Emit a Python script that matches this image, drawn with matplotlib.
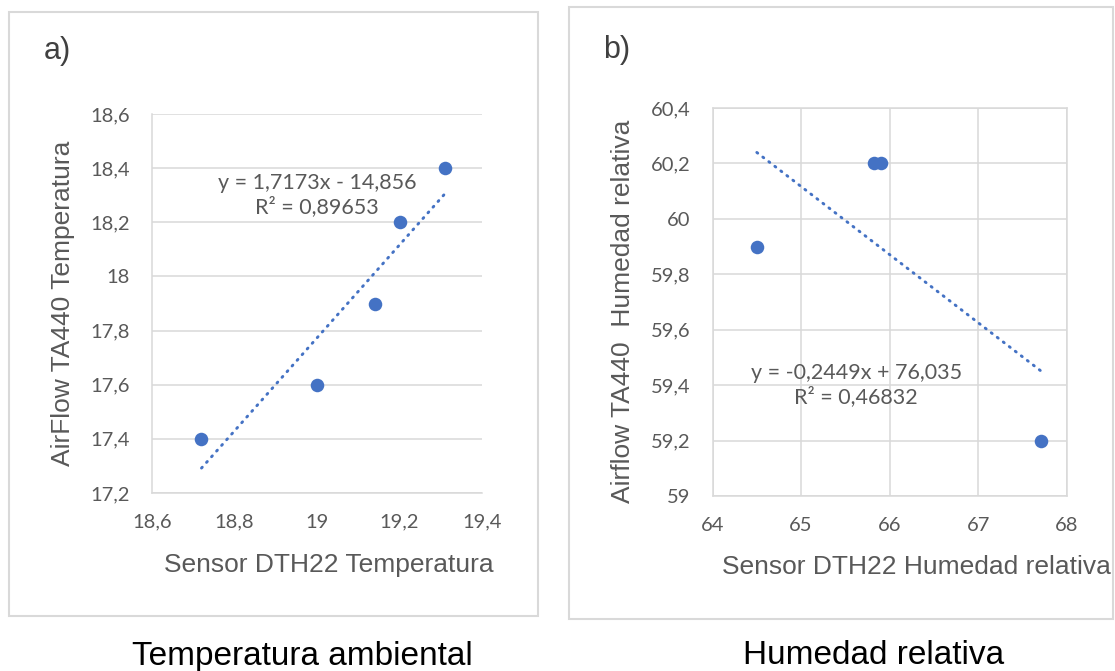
import numpy as np
import matplotlib.pyplot as plt
from matplotlib.patches import Rectangle

# panel a) temperatura
temp_dth22 = [18.72, 19.0, 19.14, 19.2, 19.31]
temp_airflow = [17.4, 17.6, 17.9, 18.2, 18.4]
temp_eq = "y = 1,7173x - 14,856\nR² = 0,89653"
temp_xticks = [18.6, 18.8, 19.0, 19.2, 19.4]
temp_xlabels = ["18,6", "18,8", "19", "19,2", "19,4"]
temp_yticks = [17.2, 17.4, 17.6, 17.8, 18.0, 18.2, 18.4, 18.6]
temp_ylabels = ["17,2", "17,4", "17,6", "17,8", "18", "18,2", "18,4", "18,6"]

# panel b) humedad
hum_dth22 = [64.5, 65.82, 65.9, 67.71]
hum_airflow = [59.9, 60.2, 60.2, 59.2]
hum_eq = "y = -0,2449x + 76,035\nR² = 0,46832"
hum_xticks = [64, 65, 66, 67, 68]
hum_xlabels = ["64", "65", "66", "67", "68"]
hum_yticks = [59.0, 59.2, 59.4, 59.6, 59.8, 60.0, 60.2, 60.4]
hum_ylabels = ["59", "59,2", "59,4", "59,6", "59,8", "60", "60,2", "60,4"]

BLUE = "#4472C4"
GRID = "#D9D9D9"
TICK = "#595959"
W, H = 1115, 671

fig = plt.figure(figsize=(W / 100, H / 100), dpi=100)


def px_axes(x0, y0, x1, y1):
    return fig.add_axes([x0 / W, 1 - y1 / H, (x1 - x0) / W, (y1 - y0) / H])


def frame(x0, y0, x1, y1):
    fig.patches.append(Rectangle((x0 / W, 1 - y1 / H), (x1 - x0) / W, (y1 - y0) / H,
                                 transform=fig.transFigure, fill=False,
                                 edgecolor="#D9D9D9", linewidth=1.5))


def panel(ax, x, y, eq, eq_pos, xt, xl, yt, yl, xlabel, ylabel, xlab_pos, ylab_pos, vgrid):
    ax.scatter(x, y, s=95, color=BLUE, zorder=3, linewidths=0)
    # linear trendline over data range
    m, b = np.polyfit(x, y, 1)
    xs = np.array([min(x), max(x)])
    ax.plot(xs, m * xs + b, color=BLUE, linewidth=2.1,
            linestyle=(0, (0.4, 2.2)), dash_capstyle="round", zorder=2)
    ax.text(eq_pos[0], eq_pos[1], eq, ha="center", va="center", fontsize=15.5,
            color=TICK, family="Lato", linespacing=1.15)
    ax.set_xlim(xt[0], xt[-1])
    ax.set_ylim(yt[0], yt[-1])
    ax.set_xticks(xt, xl)
    ax.set_yticks(yt, yl)
    ax.tick_params(length=0, labelsize=14.5, labelcolor=TICK)
    ax.tick_params(axis="y", pad=16)
    ax.tick_params(axis="x", pad=15)
    for t in ax.get_xticklabels() + ax.get_yticklabels():
        t.set_family("Lato")
    ax.grid(axis="y", color=GRID, linewidth=1.1)
    if vgrid:
        ax.grid(axis="x", color=GRID, linewidth=1.1)
    ax.set_axisbelow(True)
    for s in ["top", "right"]:
        ax.spines[s].set_visible(vgrid)
    for s in ax.spines.values():
        s.set_color(GRID)
        s.set_linewidth(1.1)
    ax.set_xlabel(xlabel, fontsize=19, color=TICK, family="Liberation Sans")
    ax.set_ylabel(ylabel, fontsize=19, color=TICK, family="Liberation Sans")
    ax.xaxis.set_label_coords(*xlab_pos)
    ax.yaxis.set_label_coords(*ylab_pos)


frame(9, 12, 538, 616)
frame(569, 7, 1113, 619)

ax1 = px_axes(152, 114, 482, 493)
panel(ax1, temp_dth22, temp_airflow, temp_eq, (19.0, 18.30),
      temp_xticks, temp_xlabels, temp_yticks, temp_ylabels,
      "Sensor DTH22 Temperatura", "AirFlow TA440 Temperatura",
      (0.535, -0.158), (-0.234, 0.5), False)

ax2 = px_axes(712.5, 108, 1067, 496)
panel(ax2, hum_dth22, hum_airflow, hum_eq, (65.62, 59.40),
      hum_xticks, hum_xlabels, hum_yticks, hum_ylabels,
      "Sensor DTH22 Humedad relativa", "Airflow TA440  Humedad relativa",
      (0.575, -0.152), (-0.220, 0.476), True)

fig.text(44 / W, 1 - 51 / H, "a)", fontsize=22, color="#404040",
         family="Liberation Sans", ha="left", va="center")
fig.text(603 / W, 1 - 50 / H, "b)", fontsize=22, color="#404040",
         family="Liberation Sans", ha="left", va="center")

fig.text(302 / W, 1 - 656 / H, "Temperatura ambiental", fontsize=24, color="black",
         family="Liberation Sans", ha="center", va="center")
fig.text(874 / W, 1 - 656 / H, "Humedad relativa", fontsize=24, color="black",
         family="Liberation Sans", ha="center", va="center")

fig.savefig("out.png", dpi=100)
